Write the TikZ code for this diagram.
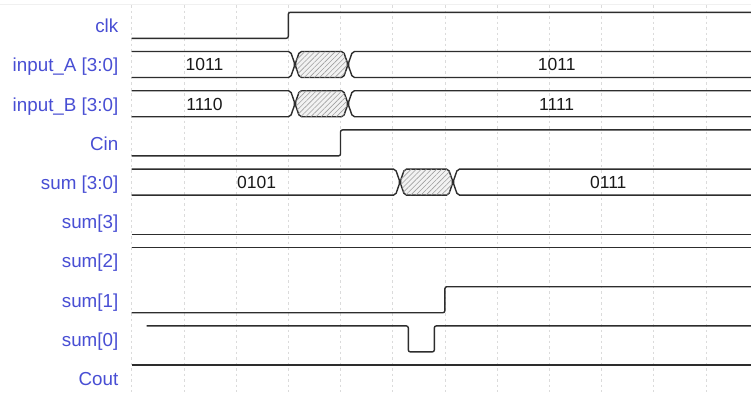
\documentclass[tikz,border=0pt]{standalone}
\usepackage{fontspec}
\setmainfont{Liberation Sans}
\usetikzlibrary{patterns.meta}
\definecolor{lblblue}{RGB}{72,78,212}
\definecolor{wave}{RGB}{45,45,45}
\begin{document}
\begin{tikzpicture}[x=1pt,y=-1pt,
  sig/.style={draw=wave,line width=1.4pt,rounded corners=2pt},
  hatch/.style={sig,fill=gray!10,postaction={pattern={Lines[angle=45,distance=3.6pt,line width=0.6pt]},pattern color=gray!75}},
  gridl/.style={draw=gray!28,line width=0.7pt,dash pattern=on 2.5pt off 3pt},
  lbl/.style={anchor=base east,text=lblblue,font=\fontsize{18.8}{22}\selectfont,inner sep=0pt},
  val/.style={anchor=base,text=black!90,font=\fontsize{17.5}{21}\selectfont,inner sep=0pt}]
\useasboundingbox (0,0) rectangle (751,392);
\fill[white] (0,0) rectangle (751,392);
% faint top line
\draw[gray!12,line width=0.8pt] (0,4.3) -- (751,4.3);
% grid
\foreach \k in {0,...,11}{
  \draw[gridl] ({131.7+52.2*\k},5) -- ({131.7+52.2*\k},392);
}
% labels
\foreach \name/\txt [count=\i from 0] in {lclk/clk,lA/input\_A [3:0],lB/input\_B [3:0],lcin/Cin,lsum/sum [3:0],ls3/sum[3],ls2/sum[2],ls1/sum[1],ls0/sum[0],lcout/Cout}{
  \node[lbl] (\name) at (118.5,{12.3+39.2*\i+13+7.3}) {\txt};
}
% clk
\draw[sig] (131.7,38.3) -- (288.3,38.3) -- (288.3,12.3) -- (751,12.3);
% bus row: top T, crossings c1 c2
\newcommand{\busrow}[3]{%
  \pgfmathsetmacro{\T}{#1}\pgfmathsetmacro{\B}{#1+26}\pgfmathsetmacro{\M}{#1+13}
  \draw[sig] (131.7,\T) -- ({#2-4.5},\T) -- (#2,\M) -- ({#2-4.5},\B) -- (131.7,\B);
  \draw[hatch] (#2,\M) -- ({#2+4.5},\T) -- ({#3-4.5},\T) -- (#3,\M) -- ({#3-4.5},\B) -- ({#2+4.5},\B) -- cycle;
  \draw[sig] (751,\T) -- ({#3+4.5},\T) -- (#3,\M) -- ({#3+4.5},\B) -- (751,\B);
}
\busrow{51.5}{295}{348}
\node[val] (vA1) at (204.5,{51.5+13+6.4}) {1011};
\node[val] (vA2) at (556.7,{51.5+13+6.4}) {1011};
\busrow{90.7}{295}{348}
\node[val] (vB1) at (204.5,{90.7+13+6.4}) {1110};
\node[val] (vB2) at (556.7,{90.7+13+6.4}) {1111};
% Cin
\draw[sig] (131.7,155.9) -- (340.5,155.9) -- (340.5,129.9) -- (751,129.9);
% sum bus
\busrow{169.1}{400}{453}
\node[val] (vS1) at (256.7,{169.1+13+6.4}) {0101};
\node[val] (vS2) at (608.3,{169.1+13+6.4}) {0111};
% sum[3] low
\draw[sig] (131.7,234.3) -- (751,234.3);
% sum[2] high
\draw[sig] (131.7,247.5) -- (751,247.5);
% sum[1]
\draw[sig] (131.7,312.7) -- (444.9,312.7) -- (444.9,286.7) -- (751,286.7);
% sum[0]
\draw[sig] (146.7,325.9) -- (408.3,325.9) -- (408.3,351.9) -- (434.3,351.9) -- (434.3,325.9) -- (751,325.9);
% Cout
\draw[sig] (131.7,365.1) -- (751,365.1);
\end{tikzpicture}
\end{document}
